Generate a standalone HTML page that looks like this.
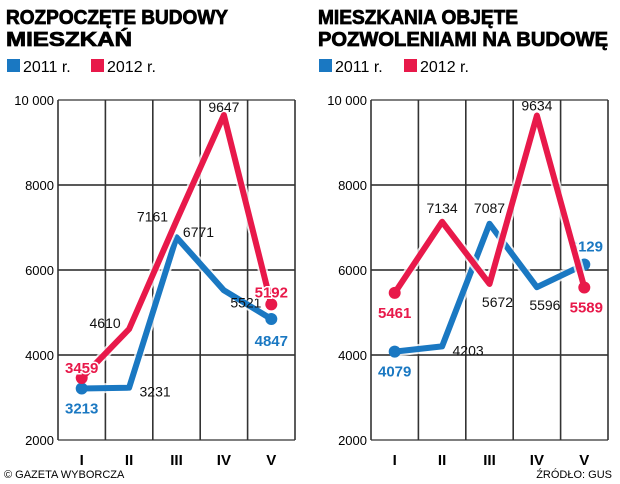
<!DOCTYPE html>
<html><head><meta charset="utf-8"><style>
html,body{margin:0;padding:0;background:#fff}
svg{display:block}
text{font-family:"Liberation Sans",sans-serif}
</style></head><body>
<svg id="c" width="620" height="484" viewBox="0 0 620 484">
<text x="6" y="24" font-size="20" font-weight="900" textLength="222" lengthAdjust="spacingAndGlyphs" stroke="#000" stroke-width="0.8">ROZPOCZĘTE BUDOWY</text>
<text x="6" y="46" font-size="20" font-weight="900" textLength="126" lengthAdjust="spacingAndGlyphs" stroke="#000" stroke-width="0.8">MIESZKAŃ</text>
<text x="318" y="24" font-size="20" font-weight="900" textLength="200" lengthAdjust="spacingAndGlyphs" stroke="#000" stroke-width="0.8">MIESZKANIA OBJĘTE</text>
<text x="318" y="46" font-size="20" font-weight="900" textLength="290" lengthAdjust="spacingAndGlyphs" stroke="#000" stroke-width="0.8">POZWOLENIAMI NA BUDOWĘ</text>
<g>
<rect x="7" y="59" width="13" height="13" fill="#1a78c2"/>
<text x="23" y="72" font-size="16">2011 r.</text>
<rect x="91" y="59" width="13" height="13" fill="#e8194a"/>
<text x="107" y="72" font-size="16">2012 r.</text>
</g>
<g>
<rect x="319" y="59" width="13" height="13" fill="#1a78c2"/>
<text x="335" y="72" font-size="16">2011 r.</text>
<rect x="404" y="59" width="13" height="13" fill="#e8194a"/>
<text x="420" y="72" font-size="16">2012 r.</text>
</g>
<text x="4" y="478" font-size="11">© GAZETA WYBORCZA</text>
<text x="612" y="478" font-size="11" text-anchor="end">ŹRÓDŁO: GUS</text>
</svg>
<script>
const categories = ["I","II","III","IV","V"];
const yTicks = [2000,4000,6000,8000,10000];
const yTickLabels = ["2000","4000","6000","8000","10 000"];
const leftSeries2011 = [3213,3231,6771,5521,4847];
const leftSeries2012 = [3459,4610,7161,9647,5192];
const rightSeries2011 = [4079,4203,7087,5596,6129];
const rightSeries2012 = [5461,7134,5672,9634,5589];

const NS="http://www.w3.org/2000/svg";
const svg=document.getElementById('c');
function mk(tag,attrs,parent){const e=document.createElementNS(NS,tag);for(const k in attrs)e.setAttribute(k,attrs[k]);(parent||svg).appendChild(e);return e;}
const BLUE="#1a78c2", RED="#e8194a";
// label offsets [dx,dy] per point (styling only)
const offs={
 l11:[[0,20],[26,4],[22,-5],[22,12],[0,22]],
 l12:[[0,-10],[-24,-6],[-24,-4],[0,-8],[0,-12]],
 r11:[[0,20],[26,4],[0,-16],[8,18],[2,-18]],
 r12:[[0,20],[0,-14],[8,18],[0,-10],[2,20]]
};
function drawChart(x0,x1,s11,s12,key,name){
  const g=mk('g',{});
  
  
  const yTop=100,yBot=440;
  const y=v=>yBot-(v-2000)*(yBot-yTop)/8000;
  const cw=(x1-x0)/categories.length;
  const x=i=>x0+cw*(i+0.5);
  // grid
  yTicks.forEach((t,i)=>{
    const ln=mk('line',{x1:x0,x2:x1,y1:y(t),y2:y(t),stroke:i==0||i==4?'#555':'#222','stroke-width':1.6},g);
    
    
    const tx=mk('text',{x:x0-4,y:y(t)+5,'font-size':13,'text-anchor':'end'},g);
    tx.textContent=yTickLabels[i];
    
    
  });
  for(let i=0;i<=categories.length;i++){
    const ln=mk('line',{x1:x0+cw*i,x2:x0+cw*i,y1:yTop,y2:yBot,stroke:'#333','stroke-width':1.6},g);
    
    
  }
  categories.forEach((c,i)=>{
    const tx=mk('text',{x:x(i),y:yBot+25,'font-size':15,'text-anchor':'middle','font-weight':'bold'},g);
    tx.textContent=c;
    
    
  });
  [[s11,BLUE,'11','series-2011'],[s12,RED,'12','series-2012']].forEach(([s,col,k,nm])=>{
    const pts=s.map((v,i)=>x(i)+','+y(v)).join(' ');
    mk('polyline',{points:pts,fill:'none',stroke:'#fff','stroke-width':10,'stroke-linejoin':'round','stroke-opacity':0.8},g);
    const pl=mk('polyline',{points:pts,fill:'none',stroke:col,'stroke-width':6,'stroke-linejoin':'round','stroke-linecap':'round'},g);
    
    
    [0,s.length-1].forEach(i=>{
      const d=mk('circle',{cx:x(i),cy:y(s[i]),r:6,fill:col},g);
      
      
    });
    const o=offs[key+k];
    s.forEach((v,i)=>{
      const end=(i==0||i==s.length-1);
      const t=mk('text',{x:x(i)+o[i][0],y:y(v)+o[i][1]+5,'font-size':end?15:14,'text-anchor':'middle','font-weight':end?'900':'normal',fill:end?col:'#111',stroke:end?'#fff':'none','stroke-width':end?3:0,'paint-order':'stroke'},g);
      t.textContent=v;
      
      
    });
  });
}
drawChart(58,295,leftSeries2011,leftSeries2012,'l','left-chart');
drawChart(371,608,rightSeries2011,rightSeries2012,'r','right-chart');
</script>
</body></html>
